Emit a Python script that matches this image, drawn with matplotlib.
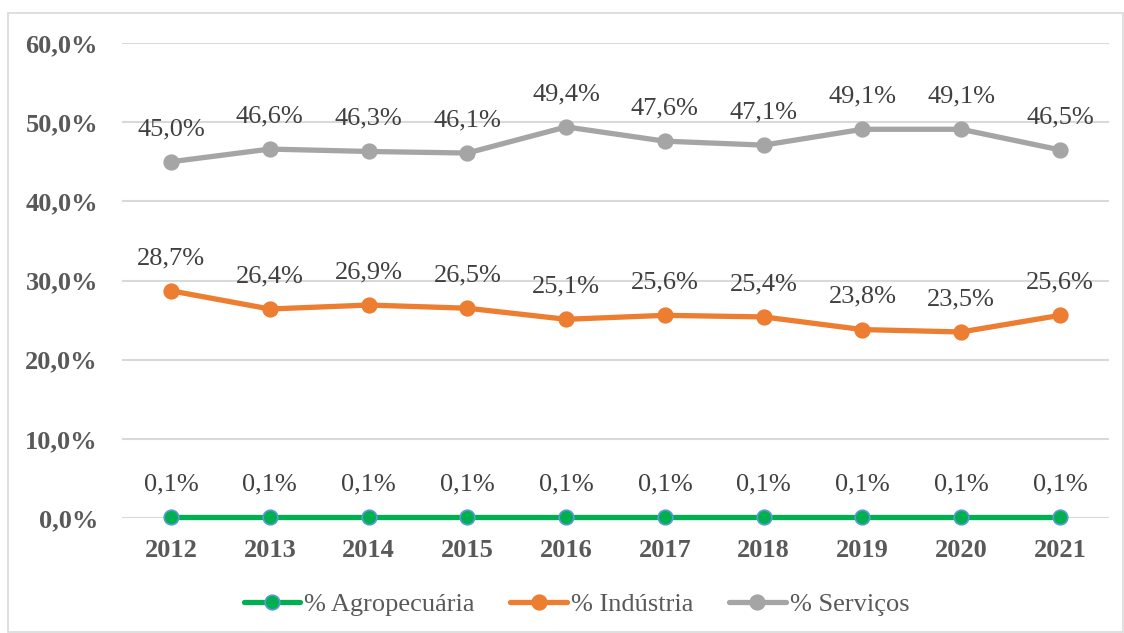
import matplotlib
matplotlib.use("Agg")
import matplotlib.pyplot as plt
from matplotlib.patches import Rectangle
from matplotlib.ticker import FuncFormatter

years = ["2012", "2013", "2014", "2015", "2016", "2017", "2018", "2019", "2020", "2021"]
agro = [0.1, 0.1, 0.1, 0.1, 0.1, 0.1, 0.1, 0.1, 0.1, 0.1]
industria = [28.7, 26.4, 26.9, 26.5, 25.1, 25.6, 25.4, 23.8, 23.5, 25.6]
servicos = [45.0, 46.6, 46.3, 46.1, 49.4, 47.6, 47.1, 49.1, 49.1, 46.5]
series_names = ["% Agropecuária", "% Indústria", "% Serviços"]
yticks = [0, 10, 20, 30, 40, 50, 60]

plt.rcParams['font.family'] = ['Liberation Serif', 'DejaVu Serif']

W, H = 1124, 633
fig = plt.figure(figsize=(W / 100, H / 100), dpi=100)
ax = fig.add_axes([121.6 / W, (H - 518) / H, 987.8 / W, 475 / H])

x = list(range(len(years)))

def fmt(v):
    return f"{v:.1f}".replace(".", ",") + "%"

styles = [
    (agro, "#00B050", "#00B050", "#5B9BD5"),
    (industria, "#ED7D31", "#ED7D31", "#ED7D31"),
    (servicos, "#A5A5A5", "#A5A5A5", "#A5A5A5"),
]
for (vals, lc, fc, ec), name in zip(styles, series_names):
    ax.plot(x, vals, color=lc, lw=3.8, marker='o', markersize=10.5,
            markerfacecolor=fc, markeredgecolor=ec, markeredgewidth=1.2,
            label=name, zorder=3, solid_capstyle='round', clip_on=False)
    for xi, v in zip(x, vals):
        ax.annotate(fmt(v), (xi, v), xytext=(0, 23.5), textcoords='offset points',
                    ha='center', va='center', fontsize=19, color='#404040')

ax.set_xlim(-0.5, len(years) - 0.5)
ax.set_ylim(0, 60)
ax.set_yticks(yticks)
ax.yaxis.set_major_formatter(FuncFormatter(lambda v, p: f"{v:.1f}".replace(".", ",") + "%"))
ax.set_xticks(x)
ax.set_xticklabels(years)
for lab in ax.get_xticklabels() + ax.get_yticklabels():
    lab.set_fontweight('bold')
    lab.set_fontsize(19)
    lab.set_color('#595959')
ax.tick_params(axis='both', length=0)
ax.tick_params(axis='x', pad=15)
ax.tick_params(axis='y', pad=17)
ax.grid(axis='y', color='#D9D9D9', lw=1.5, zorder=0)
ax.set_axisbelow(True)
for s in ax.spines.values():
    s.set_visible(False)

leg = fig.legend(loc='center', bbox_to_anchor=(576.5 / W, (H - 604) / H), ncol=3,
                 frameon=False, fontsize=19, handlelength=2.15, columnspacing=1.35,
                 handletextpad=0.15, labelcolor='#595959')

fig.patches.append(Rectangle((8 / W, 0.002), (W - 9) / W, (H - 14) / H,
                             transform=fig.transFigure, fill=False,
                             edgecolor='#D9D9D9', lw=1.2))

fig.savefig("out.png", dpi=100)
